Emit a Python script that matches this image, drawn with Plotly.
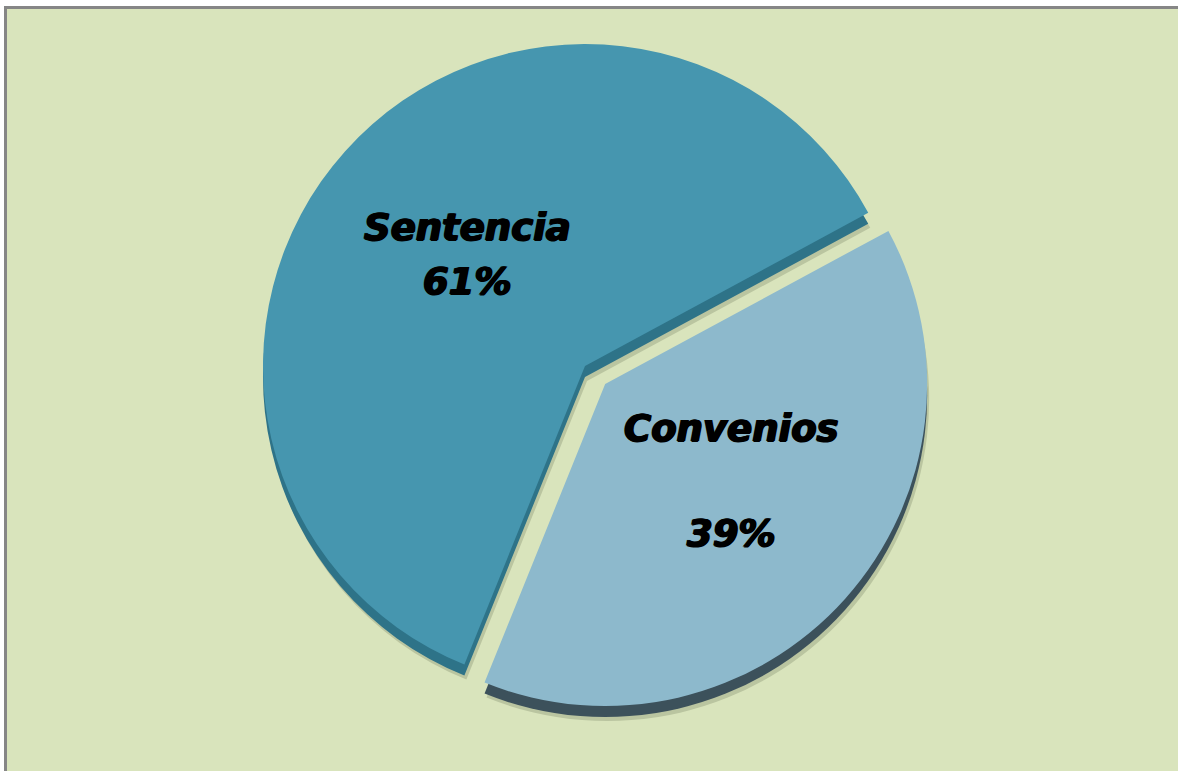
import plotly.graph_objects as go

categories = ["Sentencia", "Convenios"]
values = [61, 39]
percent_labels = ["61%", "39%"]

W, H = 1178, 771
TOP_COLORS = ["#4696AF", "#8DB9CC"]
DEPTH_COLORS = ["#2E7388", "#3C515B"]
SHADOW_COLORS = ["#BAC5A0", "#BAC5A0"]
ROTATION = 202
PULL = [0, 0.084]
CX, CY, R = 585, 366, 322


def domain(dx=0, dy=0):
    half = R * (1 + max(PULL))
    return dict(
        x=[(CX + dx - half) / W, (CX + dx + half) / W],
        y=[1 - (CY + dy + half) / H, 1 - (CY + dy - half) / H],
    )


def layer(colors, dx=0, dy=0):
    return go.Pie(
        labels=categories,
        values=values,
        sort=False,
        direction="clockwise",
        rotation=ROTATION,
        pull=PULL,
        textinfo="none",
        hoverinfo="label+percent",
        showlegend=False,
        domain=domain(dx, dy),
        marker=dict(colors=colors, line=dict(width=0)),
    )


fig = go.Figure([
    layer(SHADOW_COLORS, 2, 15),
    layer(DEPTH_COLORS, 0, 11),
    layer(TOP_COLORS),
])

font = dict(family="DejaVu Sans", size=37, color="#000000", weight="bold", style="italic",
            shadow="1px 0 0 #000, -1px 0 0 #000, 0 1px 0 #000")
positions = [
    (categories[0], 468, 227),
    (percent_labels[0], 468, 281),
    (categories[1], 731, 428),
    (percent_labels[1], 731, 533),
]
for text, x, y in positions:
    fig.add_annotation(text=text, x=x / W, y=1 - y / H, xref="paper", yref="paper",
                       xanchor="center", yanchor="middle", showarrow=False, font=font)

fig.update_layout(
    width=W,
    height=H,
    autosize=False,
    margin=dict(l=0, r=0, t=0, b=0),
    paper_bgcolor="#FFFFFF",
    shapes=[
        dict(type="rect", xref="paper", yref="paper", layer="below",
             x0=4 / W, x1=1, y0=0, y1=1 - 6 / H, fillcolor="#868686", line_width=0),
        dict(type="rect", xref="paper", yref="paper", layer="below",
             x0=7 / W, x1=1, y0=0, y1=1 - 9 / H, fillcolor="#D9E4BC", line_width=0),
    ],
)
fig.write_html("out.html", config={"displayModeBar": False},
               post_script="document.body.style.margin='0';document.body.style.overflow='hidden';")
